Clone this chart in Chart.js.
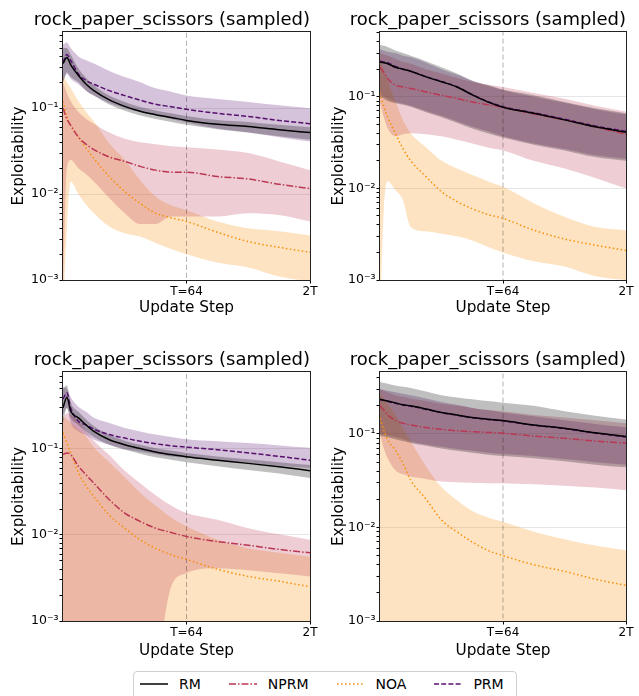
<!DOCTYPE html>
<html>
<head>
<meta charset="utf-8">
<script src="https://cdn.jsdelivr.net/npm/chart.js@4.4.1/dist/chart.umd.min.js"></script>
<style>
  body { margin: 0; background: #fff; width: 639px; height: 696px; overflow: hidden; position: relative; font-family: "DejaVu Sans", sans-serif; }
  .panel { position: absolute; }
  #legend { position: absolute; left: 133px; top: 671px; width: 384px; height: 36px; box-sizing: border-box;
            border: 1px solid #d0d0d0; border-radius: 4px; display: flex; align-items: center; padding: 0 0 10px 6px; }
  #legend .item { display: flex; align-items: center; margin-right: 28px; font-size: 14px; color: #000; }
  #legend svg { margin-right: 11px; }
</style>
</head>
<body>
<div class="panel" id="p0"><canvas id="c0"></canvas></div>
<div class="panel" id="p1"><canvas id="c1"></canvas></div>
<div class="panel" id="p2"><canvas id="c2"></canvas></div>
<div class="panel" id="p3"><canvas id="c3"></canvas></div>
<div id="legend"></div>
<script>
// x positions (update steps) the values were read at
const steps = [0, 2, 4, 8, 12, 16, 24, 32, 40, 48, 56, 64, 80, 96, 112, 128];
const T = 64;
const xTicks = [64, 128];
const xTickLabels = ["T=64", "2T"];
const yMin = 0.001;
const title = "rock_paper_scissors (sampled)";
const seriesNames = ["RM", "NPRM", "NOA", "PRM"];
const OUT = 0.0004; // below the axis floor

// top-left
const tlYMax = 0.77;
const tlRM     = [0.33, 0.39, 0.32, 0.24, 0.19, 0.16, 0.125, 0.105, 0.092, 0.084, 0.078, 0.072, 0.065, 0.061, 0.056, 0.052];
const tlRMLo   = [0.2, 0.26, 0.23, 0.2, 0.16, 0.14, 0.11, 0.093, 0.082, 0.075, 0.069, 0.064, 0.057, 0.052, 0.047, 0.043];
const tlRMHi   = [0.5, 0.5, 0.42, 0.29, 0.225, 0.185, 0.14, 0.118, 0.103, 0.094, 0.087, 0.081, 0.073, 0.069, 0.064, 0.06];
const tlNPRM   = [0.1, 0.075, 0.063, 0.046, 0.038, 0.033, 0.027, 0.024, 0.021, 0.019, 0.018, 0.018, 0.016, 0.015, 0.013, 0.0116];
const tlNPRMLo = [0.0008, 0.02, 0.025, 0.02, 0.017, 0.014, 0.009, 0.006, 0.0045, 0.0045, 0.0055, 0.0055, 0.0055, 0.006, 0.0057, 0.0048];
const tlNPRMHi = [0.2, 0.15, 0.12, 0.09, 0.075, 0.066, 0.052, 0.044, 0.04, 0.038, 0.036, 0.035, 0.033, 0.03, 0.024, 0.019];
const tlNOA    = [0.12, 0.08, 0.063, 0.046, 0.034, 0.026, 0.016, 0.0107, 0.0078, 0.006, 0.0053, 0.0048, 0.0036, 0.0028, 0.0024, 0.0021];
const tlNOALo  = [OUT, 0.004, 0.014, 0.01, 0.0075, 0.006, 0.0042, 0.0035, 0.0032, 0.0027, 0.0023, 0.002, 0.0016, 0.0014, 0.0011, 0.00096];
const tlNOAHi  = [0.24, 0.2, 0.17, 0.12, 0.09, 0.07, 0.039, 0.025, 0.0146, 0.0093, 0.0074, 0.0065, 0.0048, 0.004, 0.0037, 0.0033];
const tlPRM    = [0.34, 0.42, 0.36, 0.25, 0.21, 0.19, 0.16, 0.14, 0.124, 0.111, 0.104, 0.097, 0.087, 0.08, 0.072, 0.066];
const tlPRMLo  = [0.2, 0.25, 0.22, 0.19, 0.16, 0.14, 0.115, 0.1, 0.09, 0.082, 0.075, 0.068, 0.058, 0.052, 0.046, 0.041];
const tlPRMHi  = [0.55, 0.58, 0.5, 0.4, 0.36, 0.33, 0.27, 0.23, 0.2, 0.17, 0.155, 0.14, 0.128, 0.118, 0.108, 0.1];

// top-right
const trYMax = 0.51;
const trRM     = [0.24, 0.235, 0.23, 0.21, 0.2, 0.19, 0.165, 0.146, 0.128, 0.105, 0.088, 0.077, 0.066, 0.056, 0.047, 0.041];
const trRMLo   = [0.1, 0.095, 0.09, 0.085, 0.082, 0.078, 0.068, 0.06, 0.052, 0.045, 0.04, 0.036, 0.03, 0.026, 0.022, 0.02];
const trRMHi   = [0.37, 0.36, 0.35, 0.32, 0.3, 0.28, 0.245, 0.21, 0.18, 0.15, 0.135, 0.12, 0.104, 0.088, 0.075, 0.066];
const trNPRM   = [0.21, 0.185, 0.158, 0.134, 0.128, 0.123, 0.113, 0.104, 0.096, 0.088, 0.082, 0.077, 0.065, 0.056, 0.047, 0.039];
const trNPRMLo = [0.085, 0.06, 0.045, 0.037, 0.039, 0.04, 0.039, 0.037, 0.034, 0.031, 0.028, 0.026, 0.02, 0.0165, 0.013, 0.01];
const trNPRMHi = [0.3, 0.29, 0.28, 0.26, 0.24, 0.23, 0.2, 0.18, 0.16, 0.145, 0.135, 0.128, 0.11, 0.095, 0.08, 0.069];
const trNOA    = [0.11, 0.078, 0.06, 0.04, 0.027, 0.02, 0.0134, 0.0092, 0.0072, 0.006, 0.0052, 0.0047, 0.0035, 0.0028, 0.0024, 0.0021];
const trNOALo  = [OUT, 0.006, 0.012, 0.0096, 0.0074, 0.0038, 0.0034, 0.0032, 0.003, 0.0027, 0.0023, 0.002, 0.0016, 0.0014, 0.0011, 0.001];
const trNOAHi  = [0.27, 0.2, 0.15, 0.09, 0.055, 0.04, 0.028, 0.02, 0.0165, 0.014, 0.012, 0.0104, 0.0069, 0.0049, 0.0038, 0.0035];
const trPRM    = [0.245, 0.24, 0.235, 0.215, 0.2, 0.19, 0.166, 0.147, 0.129, 0.106, 0.089, 0.078, 0.067, 0.057, 0.048, 0.042];
const trPRMLo  = [0.105, 0.1, 0.095, 0.088, 0.084, 0.08, 0.07, 0.062, 0.054, 0.047, 0.042, 0.037, 0.031, 0.027, 0.023, 0.021];
const trPRMHi  = [0.33, 0.32, 0.31, 0.3, 0.28, 0.27, 0.235, 0.2, 0.175, 0.15, 0.132, 0.118, 0.1, 0.086, 0.073, 0.064];

// bottom-left
const blYMax = 0.785;
const blRM     = [0.3, 0.4, 0.275, 0.23, 0.19, 0.16, 0.128, 0.112, 0.101, 0.092, 0.086, 0.081, 0.074, 0.068, 0.062, 0.056];
const blRMLo   = [0.2, 0.3, 0.23, 0.19, 0.16, 0.138, 0.112, 0.098, 0.088, 0.08, 0.075, 0.07, 0.063, 0.057, 0.052, 0.046];
const blRMHi   = [0.5, 0.55, 0.35, 0.27, 0.22, 0.185, 0.145, 0.125, 0.112, 0.102, 0.096, 0.09, 0.082, 0.076, 0.07, 0.065];
const blNPRM   = [0.086, 0.09, 0.086, 0.063, 0.05, 0.04, 0.0257, 0.018, 0.0144, 0.012, 0.0107, 0.0096, 0.0084, 0.0076, 0.0068, 0.0062];
const blNPRMLo = [OUT, OUT, OUT, OUT, OUT, OUT, OUT, OUT, OUT, OUT, 0.0025, 0.0036, 0.0041, 0.0039, 0.0036, 0.0033];
const blNPRMHi = [0.22, 0.26, 0.25, 0.21, 0.16, 0.125, 0.085, 0.056, 0.04, 0.029, 0.022, 0.018, 0.015, 0.012, 0.0102, 0.0088];
const blNOA    = [0.154, 0.117, 0.09, 0.053, 0.037, 0.028, 0.017, 0.012, 0.0088, 0.007, 0.0059, 0.0052, 0.004, 0.0033, 0.0029, 0.0025];
const blNOALo  = [OUT, OUT, OUT, OUT, OUT, OUT, OUT, OUT, OUT, OUT, OUT, OUT, OUT, OUT, OUT, OUT];
const blNOAHi  = [0.24, 0.22, 0.2, 0.17, 0.14, 0.105, 0.07, 0.047, 0.031, 0.022, 0.016, 0.0126, 0.0088, 0.007, 0.0062, 0.0056];
const blPRM    = [0.38, 0.45, 0.3, 0.21, 0.19, 0.17, 0.147, 0.134, 0.123, 0.115, 0.109, 0.105, 0.098, 0.09, 0.082, 0.074];
const blPRMLo  = [0.25, 0.3, 0.2, 0.16, 0.145, 0.128, 0.112, 0.1, 0.093, 0.087, 0.082, 0.079, 0.074, 0.069, 0.064, 0.06];
const blPRMHi  = [0.53, 0.5, 0.4, 0.31, 0.27, 0.23, 0.2, 0.175, 0.16, 0.147, 0.138, 0.13, 0.123, 0.117, 0.11, 0.103];

// bottom-right
const brYMax = 0.46;
const brRM     = [0.235, 0.23, 0.225, 0.215, 0.205, 0.2, 0.185, 0.17, 0.16, 0.15, 0.144, 0.139, 0.125, 0.115, 0.103, 0.094];
const brRMLo   = [0.095, 0.094, 0.092, 0.088, 0.084, 0.08, 0.075, 0.07, 0.066, 0.063, 0.06, 0.058, 0.055, 0.051, 0.047, 0.044];
const brRMHi   = [0.36, 0.35, 0.345, 0.33, 0.32, 0.31, 0.285, 0.26, 0.245, 0.235, 0.225, 0.216, 0.2, 0.175, 0.157, 0.143];
const brNPRM   = [0.2, 0.18, 0.16, 0.14, 0.13, 0.125, 0.117, 0.112, 0.108, 0.106, 0.104, 0.102, 0.095, 0.09, 0.084, 0.08];
const brNPRMLo = [0.1, 0.07, 0.055, 0.041, 0.037, 0.035, 0.033, 0.031, 0.0305, 0.03, 0.0298, 0.0297, 0.029, 0.028, 0.0267, 0.025];
const brNPRMHi = [0.3, 0.29, 0.28, 0.26, 0.25, 0.24, 0.225, 0.21, 0.2, 0.19, 0.18, 0.175, 0.16, 0.15, 0.14, 0.13];
const brNOA    = [0.147, 0.11, 0.086, 0.067, 0.048, 0.032, 0.02, 0.012, 0.009, 0.007, 0.0057, 0.005, 0.004, 0.0034, 0.0028, 0.0024];
const brNOALo  = [OUT, OUT, OUT, OUT, OUT, OUT, OUT, OUT, OUT, OUT, OUT, OUT, OUT, OUT, OUT, OUT];
const brNOAHi  = [0.27, 0.24, 0.21, 0.16, 0.115, 0.083, 0.045, 0.027, 0.0196, 0.015, 0.0128, 0.0115, 0.009, 0.0075, 0.0064, 0.0057];
const brPRM    = [0.233, 0.228, 0.223, 0.213, 0.204, 0.198, 0.183, 0.169, 0.159, 0.149, 0.143, 0.138, 0.124, 0.114, 0.102, 0.093];
const brPRMLo  = [0.1, 0.098, 0.096, 0.092, 0.088, 0.083, 0.077, 0.073, 0.069, 0.066, 0.063, 0.061, 0.058, 0.054, 0.05, 0.047];
const brPRMHi  = [0.3, 0.295, 0.29, 0.28, 0.27, 0.26, 0.24, 0.22, 0.205, 0.19, 0.18, 0.17, 0.155, 0.14, 0.128, 0.118];

const panels = [
  { yMax: tlYMax, RM: [tlRM, tlRMLo, tlRMHi], NPRM: [tlNPRM, tlNPRMLo, tlNPRMHi], NOA: [tlNOA, tlNOALo, tlNOAHi], PRM: [tlPRM, tlPRMLo, tlPRMHi] },
  { yMax: trYMax, RM: [trRM, trRMLo, trRMHi], NPRM: [trNPRM, trNPRMLo, trNPRMHi], NOA: [trNOA, trNOALo, trNOAHi], PRM: [trPRM, trPRMLo, trPRMHi] },
  { yMax: blYMax, RM: [blRM, blRMLo, blRMHi], NPRM: [blNPRM, blNPRMLo, blNPRMHi], NOA: [blNOA, blNOALo, blNOAHi], PRM: [blPRM, blPRMLo, blPRMHi] },
  { yMax: brYMax, RM: [brRM, brRMLo, brRMHi], NPRM: [brNPRM, brNPRMLo, brNPRMHi], NOA: [brNOA, brNOALo, brNOAHi], PRM: [brPRM, brPRMLo, brPRMHi] },
];

// where each subplot sits on the page
const boxes = [
  { left: 0,   top: 0,   w: 320, h: 330, yw: 63, xh: 50, padR: 10, xtPad: 12.5 },
  { left: 320, top: 0,   w: 319, h: 330, yw: 60, xh: 50, padR: 13, xtPad: 12.5 },
  { left: 0,   top: 340, w: 320, h: 330, yw: 63, xh: 49, padR: 10, xtPad: 10 },
  { left: 320, top: 340, w: 319, h: 330, yw: 60, xh: 49, padR: 13, xtPad: 10 },
];

const styles = {
  RM:   { color: "#000000", band: "rgba(0,0,0,0.25)",       dash: [] },
  NPRM: { color: "#bc3754", band: "rgba(188,55,84,0.25)",   dash: [7, 2, 1.5, 2] },
  NOA:  { color: "#f98e09", band: "rgba(249,142,9,0.25)",   dash: [1.5, 2.5] },
  PRM:  { color: "#57106e", band: "rgba(87,16,110,0.25)",   dash: [5, 2.2] },
};

Chart.defaults.font.family = "DejaVu Sans";
Chart.defaults.color = "#000";

const supMap = { "-": "\u207B", "0": "\u2070", "1": "\u00B9", "2": "\u00B2", "3": "\u00B3", "4": "\u2074" };
const isMajor = (v) => { const e = Math.log10(v); return Math.abs(e - Math.round(e)) < 1e-6; };
const pts = (ys) => steps.map((x, i) => ({ x: x, y: ys[i] }));

const frame = {
  id: "frame",
  afterDatasetsDraw(chart) {
    const { ctx, chartArea: a } = chart;
    ctx.save();
    ctx.strokeStyle = "#222";
    ctx.lineWidth = 1;
    ctx.strokeRect(Math.round(a.left) - 0.5, Math.round(a.top) - 0.5, Math.round(a.right - a.left) + 1, Math.round(a.bottom - a.top) + 1);
    ctx.restore();
  },
};

panels.forEach((p, k) => {
  const b = boxes[k];
  const div = document.getElementById("p" + k);
  div.style.left = b.left + "px";
  div.style.top = b.top + "px";
  div.style.width = b.w + "px";
  div.style.height = b.h + "px";

  const datasets = [];
  // lines on top
  ["RM", "PRM", "NPRM", "NOA"].forEach((name) => {
    datasets.push({
      label: name, data: pts(p[name][0]), borderColor: styles[name].color, borderDash: styles[name].dash,
      borderWidth: 1.5, pointRadius: 0, fill: false, order: 0, cubicInterpolationMode: "monotone",
    });
  });
  datasets.push({
    label: "T", data: [{ x: T, y: 0.0001 }, { x: T, y: 10 }], borderColor: "rgba(0,0,0,0.3)",
    borderDash: [5, 3], borderWidth: 1, pointRadius: 0, fill: false, order: 1,
  });
  seriesNames.forEach((name) => {
    datasets.push({ label: name + " lo", data: pts(p[name][1]), borderWidth: 0, pointRadius: 0, fill: false, order: 2,
                    cubicInterpolationMode: "monotone" });
    datasets.push({
      label: name + " hi", data: pts(p[name][2]), borderWidth: 0, pointRadius: 0, order: 2,
      fill: "-1", backgroundColor: styles[name].band, cubicInterpolationMode: "monotone",
    });
  });

  const yTickVals = [];
  [0.001, 0.01, 0.1].forEach((d) => {
    for (let m = 1; m <= 9; m++) { const v = +(m * d).toPrecision(3); if (v <= p.yMax) yTickVals.push(v); }
  });

  new Chart(document.getElementById("c" + k), {
    type: "line",
    data: { datasets: datasets },
    plugins: [frame],
    options: {
      responsive: true,
      maintainAspectRatio: false,
      animation: false,
      devicePixelRatio: 1,
      layout: { padding: { left: 0, right: b.padR, top: 0, bottom: 0 } },
      plugins: {
        legend: { display: false },
        tooltip: { enabled: false },
        title: { display: true, text: title, align: "end", font: { size: 18, weight: "normal", lineHeight: 1 },
                 color: "#000", padding: { top: 11, bottom: 3 } },
      },
      scales: {
        x: {
          type: "linear", min: 0, max: 128,
          afterBuildTicks: (s) => { s.ticks = xTicks.map((v) => ({ value: v })); },
          afterFit: (s) => { s.height = b.xh; },
          ticks: { font: { size: 12 }, padding: 1.3, maxRotation: 0, autoSkip: false,
                   callback: (v) => xTickLabels[xTicks.indexOf(v)] },
          grid: { drawOnChartArea: false, tickLength: 3.5, tickColor: "#000" },
          border: { display: false },
          title: { display: true, text: "Update Step", font: { size: 15.3, lineHeight: 1.2 }, padding: { top: 0, bottom: b.xtPad } },
        },
        y: {
          type: "logarithmic", min: yMin, max: p.yMax,
          afterBuildTicks: (s) => { s.ticks = yTickVals.map((v) => ({ value: v })); },
          afterFit: (s) => { s.width = b.yw; },
          ticks: { font: { size: 12.5 }, padding: 1, autoSkip: false,
                   callback: (v) => isMajor(v) ? "10" + String(Math.round(Math.log10(v))).split("").map((c) => supMap[c]).join("") : "" },
          grid: {
            color: (c) => (c.tick && isMajor(c.tick.value) && c.tick.value > yMin * 1.5) ? "#e6e6e6" : "rgba(0,0,0,0)",
            tickLength: 3.5, tickColor: "#000",
          },
          border: { display: false },
          title: { display: true, text: "Exploitability", font: { size: 15.3, lineHeight: 1.2 }, padding: { top: 9.5, bottom: 0 } },
        },
      },
    },
  });
});

// legend
const legendEl = document.getElementById("legend");
seriesNames.forEach((name) => {
  const s = styles[name];
  const item = document.createElement("div");
  item.className = "item";
  item.innerHTML = '<svg width="28" height="6"><line x1="0" y1="3" x2="28" y2="3" stroke="' + s.color +
    '" stroke-width="1.5" stroke-dasharray="' + (s.dash.length ? s.dash.join(" ") : "none") + '"/></svg><span>' + name + "</span>";
  legendEl.appendChild(item);
});
</script>
</body>
</html>
